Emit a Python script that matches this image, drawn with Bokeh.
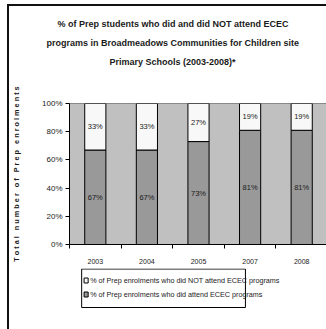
from bokeh.plotting import figure
from bokeh.layouts import column
from bokeh.models import (Range1d, FixedTicker, LabelSet, ColumnDataSource, Title)
from bokeh.embed import file_html
from bokeh.resources import INLINE
from bokeh.core.properties import value

years = ["2003", "2004", "2005", "2007", "2008"]
attended = [67, 67, 73, 81, 81]
not_attended = [33, 33, 27, 19, 19]
y_ticks = [0, 20, 40, 60, 80, 100]
title_lines = ["% of Prep students who did and did NOT attend ECEC",
               "programs in Broadmeadows Communities for Children site",
               "Primary Schools (2003-2008)*"]
y_title = "Total number of Prep enrolments"
legend_labels = ["% of Prep enrolments who did NOT attend ECEC programs",
                 "% of Prep enrolments who did attend ECEC programs"]

FONT = "Liberation Sans"
TXT = "#1a1a1a"
COL_ATT, COL_NOT = "#999999", "#f8f8f8"

p = figure(title=None, frame_width=258, frame_height=141,
           output_backend="svg", toolbar_location=None,
           x_range=Range1d(0, len(years)), y_range=Range1d(0, 100),
           min_border_left=59, min_border_right=0, min_border_top=97,
           min_border_bottom=24)
p.background_fill_color = "#c0c0c0"
p.border_fill_color = "white"
p.outline_line_color = "#888888"
p.xgrid.visible = False
p.ygrid.visible = False

xs = [i + 0.5 for i in range(len(years))]
src = ColumnDataSource(dict(x=xs, years=years, att=attended, notatt=not_attended,
                            att_lbl=[f"{v}%" for v in attended],
                            not_lbl=[f"{v}%" for v in not_attended],
                            att_y=[a / 2 for a in attended],
                            not_y=[a + n / 2 for a, n in zip(attended, not_attended)]))
r = p.vbar_stack(["att", "notatt"], x="x", width=0.41, source=src,
                 fill_color=[COL_ATT, COL_NOT], line_color="black", line_width=1)

for col, ycol in [("att_lbl", "att_y"), ("not_lbl", "not_y")]:
    p.add_layout(LabelSet(x="x", y=ycol, text=col, source=src, text_align="center",
                          text_baseline="middle", text_font=value(FONT),
                          text_font_size="7.5px", text_color=TXT))

# x axis: labels at category centres, ticks at category boundaries
p.xaxis.ticker = FixedTicker(ticks=xs, minor_ticks=list(range(len(years) + 1)))
p.xaxis.major_label_overrides = {x: y for x, y in zip(xs, years)}
p.xaxis.major_tick_line_color = None
p.xaxis.major_tick_in = 0
p.xaxis.major_tick_out = 0
p.xaxis.minor_tick_in = 0
p.xaxis.minor_tick_out = 4
p.xaxis.minor_tick_line_color = "black"
p.xaxis.major_label_standoff = 10
p.xaxis.major_label_text_font_size = "7px"

p.yaxis.ticker = FixedTicker(ticks=y_ticks)
p.yaxis.major_label_overrides = {t: f"{t}%" for t in y_ticks}
p.yaxis.minor_tick_line_color = None
p.yaxis.major_tick_in = 0
p.yaxis.major_tick_out = 4
p.yaxis.major_tick_line_color = "black"
p.yaxis.major_label_standoff = 3
p.yaxis.major_label_text_font_size = "8px"
p.yaxis.axis_label = " \u00a0 ".join(" ".join(w) for w in y_title.split())
p.yaxis.axis_label_text_font = FONT
p.yaxis.axis_label_text_font_size = "7.3px"
p.yaxis.axis_label_text_font_style = "bold"
p.yaxis.axis_label_text_color = TXT
p.yaxis.axis_label_standoff = 18
for ax in (p.xaxis, p.yaxis):
    ax.axis_line_color = "black"
    ax.major_label_text_font = FONT
    ax.major_label_text_color = TXT

# spacer between the frame and the title block
p.add_layout(Title(text=" ", text_font_size="1px", standoff=30), "above")
# three title lines, innermost first
offsets = [40, -23, -12]
for t, off in zip(reversed(title_lines), offsets):
    p.add_layout(Title(text=t, align="left", offset=off, standoff=6.5,
                       text_font=FONT, text_font_size="9px",
                       text_font_style="bold", text_color=TXT), "above")

# legend strip below the chart (pixel-like coordinates, y pointing down)
p2 = figure(title=None, width=317, height=62, output_backend="svg",
            toolbar_location=None, x_range=Range1d(0, 317), y_range=Range1d(62, 0),
            x_axis_type=None, y_axis_type=None, min_border=0)
p2.outline_line_color = None
p2.background_fill_color = "white"
p2.border_fill_color = "white"
p2.xgrid.visible = False
p2.ygrid.visible = False
leg_y = [12, 26]
p2.quad(left=15, right=217, top=0.5, bottom=39, fill_color="white",
        line_color="black", line_width=1)
p2.rect(x=20.5, y=leg_y, width=5, height=5, fill_color=[COL_NOT, COL_ATT],
        line_color="black", line_width=1)
p2.text(x=25.5, y=leg_y, text=legend_labels, text_baseline="middle",
        text_align="left", text_font=value(FONT), text_font_size=value("7.2px"),
        text_color=TXT)

page = column(p, p2, spacing=0,
              styles={"margin-left": "7px", "margin-top": "4px",
                      "border-left": "2px solid #111",
                      "border-top": "2px solid #111"})

open("out.html", "w").write(file_html(page, INLINE))
